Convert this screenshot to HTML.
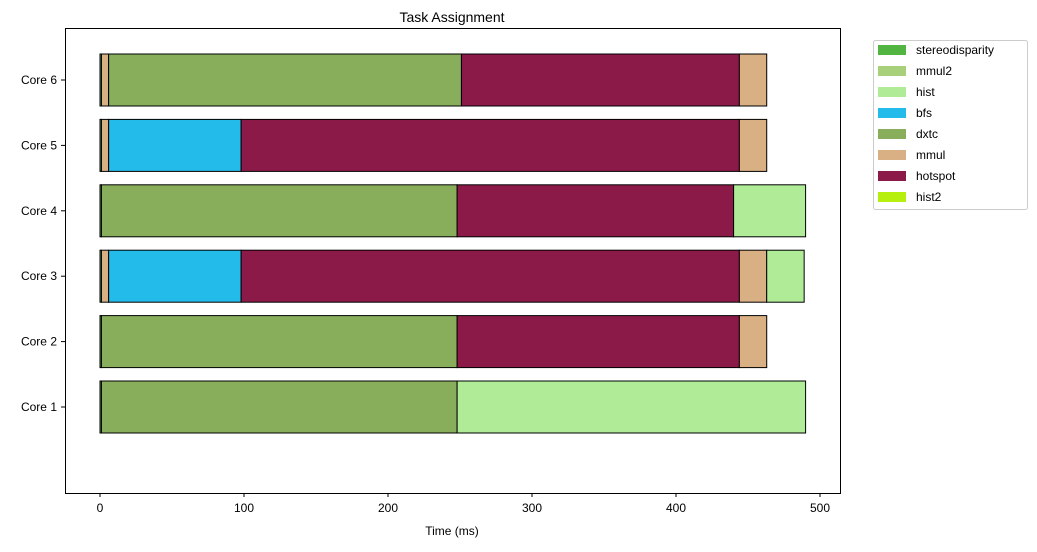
<!DOCTYPE html>
<html><head><meta charset="utf-8"><style>
body{margin:0;background:#fff;font-family:"Liberation Sans","DejaVu Sans",sans-serif;}
</style></head><body>
<svg id="c" width="1037" height="547" xmlns="http://www.w3.org/2000/svg">
<rect x="0" y="0" width="1037" height="547" fill="#fff"/>
<text x="452" y="22" font-size="14" text-anchor="middle">Task Assignment</text>
<g id="bars"></g>
<rect x="65.5" y="28.5" width="775" height="465" fill="none" stroke="#000" stroke-width="1"/>
<g id="axes" font-size="12"></g>
<text x="452" y="535" font-size="12" text-anchor="middle">Time (ms)</text>
<g id="legend"></g>
</svg>
<script>
const cores = ["Core 1","Core 2","Core 3","Core 4","Core 5","Core 6"];
const segTasks = [
 ["stereodisparity","dxtc","hist"],
 ["stereodisparity","dxtc","hotspot","mmul"],
 ["stereodisparity","mmul","bfs","hotspot","mmul","hist"],
 ["stereodisparity","dxtc","hotspot","hist"],
 ["stereodisparity","mmul","bfs","hotspot","mmul"],
 ["stereodisparity","mmul","dxtc","hotspot","mmul"]
];
const segStarts = [
 [0,1,248],
 [0,1,248,444],
 [0,1,6,98,444,463],
 [0,1,248,440],
 [0,1,6,98,444],
 [0,1,6,251,444]
];
const segEnds = [
 [1,248,490],
 [1,248,444,463],
 [1,6,98,444,463,489],
 [1,248,440,490],
 [1,6,98,444,463],
 [1,6,251,444,463]
];
const xTicks = [0,100,200,300,400,500];
const legendNames = ["stereodisparity","mmul2","hist","bfs","dxtc","mmul","hotspot","hist2"];
const legendColors = ["#52b541","#a8d07a","#b0ec97","#23bbea","#88ae5c","#d8b083","#8c1a48","#b6ef0e"];

const NS="http://www.w3.org/2000/svg";
const xs = v => 100 + v*1.44;
const ys = i => 407 - i*65.4;
const color = t => legendColors[legendNames.indexOf(t)];
const bars=document.getElementById('bars'), axes=document.getElementById('axes'), legend=document.getElementById('legend');
function mk(tag,attrs,parent){const e=document.createElementNS(NS,tag);for(const k in attrs)e.setAttribute(k,attrs[k]);parent.appendChild(e);return e;}

cores.forEach((c,i)=>{
  segTasks[i].forEach((t,j)=>{
    const r=mk('rect',{x:xs(segStarts[i][j]),y:ys(i)-26,width:Math.max(0.5,xs(segEnds[i][j])-xs(segStarts[i][j])),height:52,fill:color(t),stroke:'#000','stroke-width':1},bars);
    
    
  });
  mk('line',{x1:61,x2:65,y1:ys(i),y2:ys(i),stroke:'#000'},axes);
  const tx=mk('text',{x:57,y:ys(i)+4,'text-anchor':'end'},axes);
  tx.textContent=c;
  
  
});
xTicks.forEach(v=>{
  mk('line',{x1:xs(v),x2:xs(v),y1:493,y2:497,stroke:'#000'},axes);
  const tx=mk('text',{x:xs(v),y:512,'text-anchor':'middle'},axes);
  tx.textContent=v;
  
  
});
const lb=mk('rect',{x:873.5,y:40.5,width:154,height:169,rx:2,fill:'#fff',stroke:'#ccc'},legend);


legendNames.forEach((n,i)=>{
  const y=50+i*21;
  const g=mk('g',{},legend);
  
  
  mk('rect',{x:878,y:y-5,width:28,height:10,fill:legendColors[i]},g);
  const t=mk('text',{x:916,y:y+4,'font-size':12},g);
  t.textContent=n;
});
</script>
</body></html>
